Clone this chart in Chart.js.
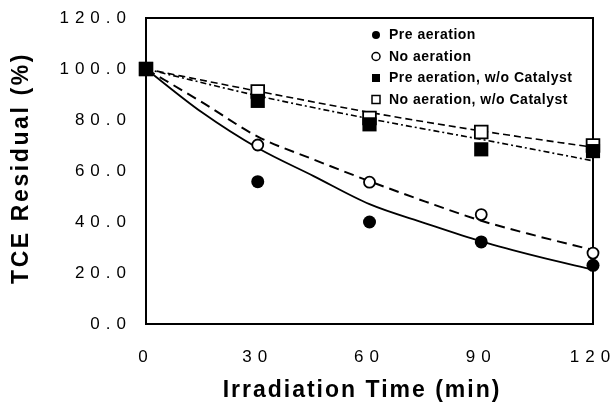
<!DOCTYPE html>
<html>
<head>
<meta charset="utf-8">
<script src="https://cdn.jsdelivr.net/npm/chart.js@4.4.0/dist/chart.umd.min.js"></script>
<style>
  html, body { margin: 0; padding: 0; background: #fff; }
</style>
</head>
<body>
<canvas id="tceChart" width="614" height="405"></canvas>
<script>
// measured points (irradiation time in min, TCE residual in %)
const times = [0, 30, 60, 90, 120];
const preAeration = [100, 55.8, 40.0, 32.2, 23.0];
const noAeration = [100, 70.2, 55.6, 42.9, 27.8];
const preAerationNoCat = [100, 87.5, 78.3, 68.5, 67.8];
const noAerationNoCat = [100, 91.2, 80.8, 75.3, 70.0];

// trend curves
const fitTimes = [0, 15, 30, 45, 60, 75, 90, 105, 120];
const preAerationFit = [100, 83, 69, 58, 47, 39.5, 32.4, 26.5, 21.3];
const noAerationFit = [100, 87, 73.5, 64.5, 56, 48, 40.5, 34.5, 29];
const preAerationNoCatFit = [100, 89.5, 80.5, 72.4, 64];
const noAerationNoCatFit = [100, 91.3, 83, 75.7, 69.3];

const legendLabels = [
  "Pre aeration",
  "No aeration",
  "Pre aeration, w/o Catalyst",
  "No aeration, w/o Catalyst",
];
const xTitle = "Irradiation Time (min)";
const yTitle = "TCE Residual (%)";

function toPoints(xs, ys) {
  return xs.map((x, i) => ({ x: x, y: ys[i] }));
}

// marker datasets (no line)
function markerSet(label, ys, style, filled, radius) {
  return {
    label: label,
    data: toPoints(times, ys),
    showLine: false,
    pointStyle: style,
    pointRadius: radius,
    pointHoverRadius: radius,
    pointBackgroundColor: filled ? "#000" : "#fff",
    pointBorderColor: "#000",
    pointBorderWidth: filled ? 0 : 1.8,
    clip: false,
  };
}

// curve datasets (no points)
function curveSet(xs, ys, width, dash) {
  return {
    data: toPoints(xs, ys),
    borderColor: "#000",
    borderWidth: width,
    borderDash: dash,
    pointRadius: 0,
    cubicInterpolationMode: "monotone",
    fill: false,
    clip: false,
  };
}

function drawMarker(ctx, style, filled, x, y, r) {
  ctx.beginPath();
  if (style === "circle") ctx.arc(x, y, r, 0, Math.PI * 2);
  else ctx.rect(x - r, y - r, 2 * r, 2 * r);
  ctx.fillStyle = filled ? "#000" : "#fff";
  ctx.fill();
  if (!filled) {
    ctx.lineWidth = 1.5;
    ctx.strokeStyle = "#000";
    ctx.stroke();
  }
}

const legendMarkers = [
  ["circle", true],
  ["circle", false],
  ["rect", true],
  ["rect", false],
];

const framePlugin = {
  id: "frame",
  beforeDraw(chart) {
    // wide tracking of the tick numbers
    chart.ctx.letterSpacing = "6px";
  },
  beforeDatasetsDraw(chart) {
    const a = chart.chartArea;
    const ctx = chart.ctx;
    ctx.save();
    ctx.lineWidth = 2;
    ctx.strokeStyle = "#000";
    ctx.strokeRect(a.left, a.top, a.right - a.left, a.bottom - a.top);
    ctx.restore();
  },
  afterDraw(chart) {
    const a = chart.chartArea;
    const ctx = chart.ctx;
    ctx.save();
    ctx.fillStyle = "#000";
    ctx.font = "bold 23px 'Liberation Sans', Arial, sans-serif";
    ctx.textAlign = "center";
    ctx.textBaseline = "alphabetic";
    ctx.letterSpacing = "2px";
    ctx.fillText(xTitle, 362, 397);
    ctx.save();
    ctx.letterSpacing = "2.6px";
    ctx.translate(28, 168);
    ctx.rotate(-Math.PI / 2);
    ctx.fillText(yTitle, 0, 0);
    ctx.restore();

    // legend inside the plot, top right
    ctx.letterSpacing = "0.5px";
    ctx.font = "bold 14px 'Liberation Sans', Arial, sans-serif";
    ctx.textAlign = "left";
    ctx.textBaseline = "middle";
    legendLabels.forEach((text, i) => {
      const y = a.top + 17 + i * 21.5;
      const m = legendMarkers[i];
      drawMarker(ctx, m[0], m[1], 376, y, 4);
      ctx.fillStyle = "#000";
      ctx.fillText(text, 389, y + 0.5);
    });
    ctx.restore();
  },
};

const tickFont = { family: "'Liberation Sans', Arial, sans-serif", size: 17 };

new Chart(document.getElementById("tceChart"), {
  type: "line",
  data: {
    datasets: [
      markerSet(legendLabels[2], preAerationNoCat, "rect", true, 10),
      markerSet(legendLabels[0], preAeration, "circle", true, 6.5),
      markerSet(legendLabels[3], noAerationNoCat, "rect", false, 9),
      markerSet(legendLabels[1], noAeration, "circle", false, 5.5),
      curveSet(fitTimes, preAerationFit, 1.8, []),
      curveSet(fitTimes, noAerationFit, 2, [10, 6]),
      curveSet(times, noAerationNoCatFit, 1.6, [7, 4]),
      curveSet(times, preAerationNoCatFit, 1.6, [6, 3, 2, 3]),
    ],
  },
  options: {
    responsive: false,
    devicePixelRatio: 1,
    animation: false,
    layout: {
      padding: { left: 0, right: 21, top: 18, bottom: 0 },
    },
    scales: {
      x: {
        type: "linear",
        min: 0,
        max: 120,
        afterFit: (scale) => {
          scale.height = 81;
          scale.paddingLeft = 0;
          scale.paddingRight = 0;
        },
        ticks: {
          stepSize: 30,
          color: "#000",
          font: tickFont,
          padding: 23,
          maxRotation: 0,
        },
        grid: { display: false, drawTicks: false },
        border: { display: false },
      },
      y: {
        min: 0,
        max: 120,
        afterFit: (scale) => {
          scale.width = 146;
          scale.paddingTop = 0;
          scale.paddingBottom = 0;
        },
        ticks: {
          stepSize: 20,
          color: "#000",
          font: tickFont,
          padding: 14,
          callback: (v) => v.toFixed(1),
        },
        grid: { display: false, drawTicks: false },
        border: { display: false },
      },
    },
    plugins: {
      legend: { display: false },
      tooltip: { enabled: false },
    },
  },
  plugins: [framePlugin],
});
</script>
</body>
</html>
